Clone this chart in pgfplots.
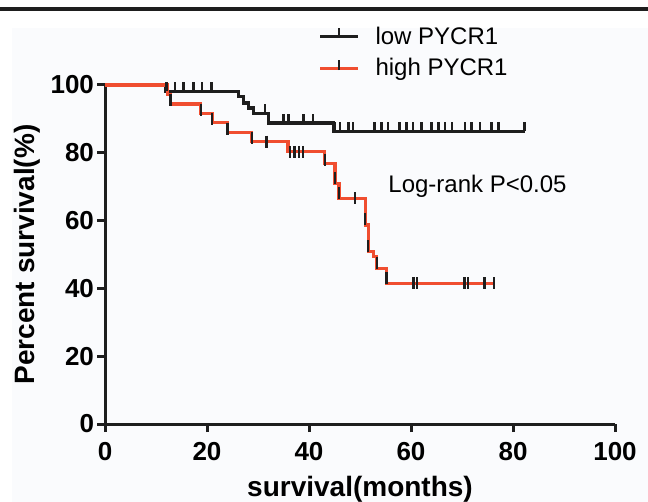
\documentclass[border=0pt]{standalone}
\usepackage{pgfplots}
\pgfplotsset{compat=1.18}
\usepackage{fontspec}
\setmainfont{Liberation Sans}
\definecolor{kmred}{RGB}{240,78,48}
\definecolor{kmblack}{RGB}{30,30,30}
\definecolor{bgpanel}{RGB}{250,251,253}
% censor mark pointing up from the line
\pgfdeclareplotmark{uptick}{%
  \pgfpathmoveto{\pgfpointorigin}%
  \pgfpathlineto{\pgfpoint{0pt}{\pgfplotmarksize}}%
  \pgfusepathqstroke}

\begin{document}
\begin{tikzpicture}
\path[use as bounding box] (0,0) rectangle (324bp,251bp);
\fill[bgpanel] (6bp,0) rectangle (324bp,237bp);
\fill[kmblack] (0,245.5bp) rectangle (324bp,247.5bp);
\begin{axis}[
  at={(52.5bp,39bp)}, anchor=south west,
  width=255bp, height=169.5bp, scale only axis,
  xmin=0, xmax=100, ymin=0, ymax=100,
  clip=false,
  axis lines=left,
  axis line style={-, line width=1.5bp, kmblack},
  xtick={0,20,...,100}, ytick={0,20,...,100},
  tick align=outside, major tick length=4bp,
  tick style={line width=1.5bp, kmblack},
  /pgf/number format/assume math mode=true,
  ticklabel style={font=\fontsize{13bp}{15bp}\selectfont\bfseries},
  xticklabel style={yshift=-1.5bp},
  yticklabel style={xshift=2bp},
  xlabel={survival(months)}, ylabel={Percent survival(\%)},
  label style={font=\fontsize{14bp}{16bp}\selectfont\bfseries},
  xlabel style={yshift=-1bp},
  ylabel style={yshift=-1.5bp},
  legend style={at={(0.418,1.185)}, anchor=north west, draw=none, fill=none,
                inner sep=0pt, row sep=1.5bp,
                font=\fontsize{12bp}{14bp}\selectfont},
  legend cell align=left,
  /tikz/every even column/.append style={column sep=0bp},
]
\addlegendimage{legend image code/.code={
  \draw[kmblack, line width=1.5bp] (0bp,0bp) -- (19bp,0bp);
  \draw[kmblack, line width=1.3bp] (9.5bp,0bp) -- (9.5bp,4.5bp);}}
\addlegendentry{\hspace{6bp}low PYCR1}
\addlegendimage{legend image code/.code={
  \draw[kmred, line width=1.5bp] (0bp,0bp) -- (19bp,0bp);
  \draw[kmblack, line width=1.3bp] (9.5bp,-1bp) -- (9.5bp,4bp);}}
\addlegendentry{\hspace{6bp}high PYCR1}

% low PYCR1
\addplot[const plot, kmblack, line width=1.6bp, forget plot] coordinates {
  (0,100) (11.8,98.1) (26.1,96.7) (27.1,94.7) (28.1,93.2) (29.1,91.7)
  (32,88.8) (44.8,86.4) (82.3,86.4)
};
% high PYCR1
\addplot[const plot, kmred, line width=1.6bp, forget plot] coordinates {
  (0,100) (12.2,97.2) (12.9,94.4) (18.8,91.7) (21,88.9) (24,86.1)
  (28.8,83.3) (35.9,80.3) (43.1,76.9) (45.1,71) (45.9,66.6) (51,58.7)
  (51.6,50.8) (52.6,49.5) (53.3,45.9) (55.2,41.5) (76.3,41.5)
};
% censored, low
\addplot[only marks, mark=uptick, mark size=4.5bp, kmblack,
         mark options={line width=1.3bp}, forget plot] coordinates {
  (12.1,98.1) (13.7,98.1) (15.4,98.1) (17.3,98.1) (19,98.1) (20.9,98.1)
  (31.4,91.7)
  (35,88.8) (36,88.8) (38.9,88.8) (40.8,88.8)
  (45.1,86.4) (46.1,86.4) (47.7,86.4) (48.6,86.4) (52.9,86.4) (54.2,86.4)
  (55.5,86.4) (57.8,86.4) (59.1,86.4) (60.4,86.4) (62.1,86.4) (64,86.4)
  (65.4,86.4) (66.7,86.4) (68,86.4) (70.6,86.4) (71.9,86.4) (73.5,86.4)
  (75.8,86.4) (77.1,86.4) (82.3,86.4)
};
% censored, high
\addplot[only marks, mark=|, mark size=3bp, kmblack,
         mark options={line width=1.3bp}, forget plot] coordinates {
  (12.9,95.5) (18.8,92.7) (21,89.9) (24,87.1) (28.8,84.3) (31.7,83.3)
  (36.3,80.3) (37.2,80.3) (38,80.3) (38.8,80.3)
  (43.1,78) (45.1,72.5) (45.9,68) (49,66.6) (51,60.5) (51.6,52.5)
  (53.3,47.5) (55.2,43)
  (60.5,41.5) (61.2,41.5) (70.5,41.5) (71.2,41.5) (74.4,41.5) (76.3,41.5)
};
\node[anchor=west, inner sep=0pt, font=\fontsize{12bp}{14bp}\selectfont]
  at (axis cs:55.5,70.2) {Log-rank P<0.05};
\end{axis}
\end{tikzpicture}
\end{document}
